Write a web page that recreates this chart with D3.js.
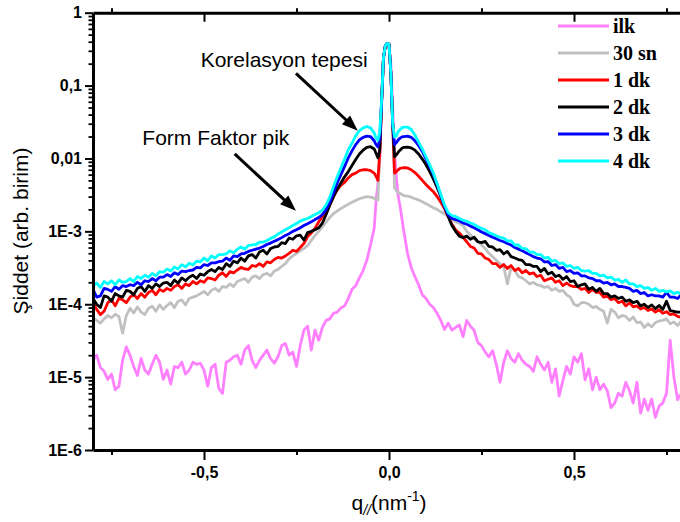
<!DOCTYPE html>
<html>
<head>
<meta charset="utf-8">
<script src="https://cdn.jsdelivr.net/npm/d3@7"></script>
<style>
  html, body { margin: 0; padding: 0; background: #fff; }
  svg { display: block; }
</style>
</head>
<body>
<svg id="chart" width="680" height="522"></svg>
<script>
// Scattering vector q_// (nm^-1): 0.01 steps on the wings, 0.005 steps around the beam
const q = [
  -0.80,-0.79,-0.78,-0.77,-0.76,-0.75,-0.74,-0.73,-0.72,-0.71,
  -0.70,-0.69,-0.68,-0.67,-0.66,-0.65,-0.64,-0.63,-0.62,-0.61,
  -0.60,-0.59,-0.58,-0.57,-0.56,-0.55,-0.54,-0.53,-0.52,-0.51,
  -0.50,-0.49,-0.48,-0.47,-0.46,-0.45,-0.44,-0.43,-0.42,-0.41,
  -0.40,-0.39,-0.38,-0.37,-0.36,-0.35,-0.34,-0.33,-0.32,-0.31,
  -0.30,-0.29,-0.28,-0.27,-0.26,-0.25,-0.24,-0.23,-0.22,-0.21,
  -0.20,-0.19,-0.18,-0.17,-0.16,-0.15,-0.14,-0.13,-0.12,-0.11,
  -0.10,-0.09,-0.08,-0.07,-0.06,-0.05,-0.04,
  -0.035,-0.03,-0.025,-0.02,-0.015,-0.01,-0.005,0,0.005,0.01,0.015,0.02,0.025,0.03,0.035,
  0.04,0.05,0.06,0.07,0.08,0.09,0.10,
  0.11,0.12,0.13,0.14,0.15,0.16,0.17,0.18,0.19,0.20,
  0.21,0.22,0.23,0.24,0.25,0.26,0.27,0.28,0.29,0.30,
  0.31,0.32,0.33,0.34,0.35,0.36,0.37,0.38,0.39,0.40,
  0.41,0.42,0.43,0.44,0.45,0.46,0.47,0.48,0.49,0.50,
  0.51,0.52,0.53,0.54,0.55,0.56,0.57,0.58,0.59,0.60,
  0.61,0.62,0.63,0.64,0.65,0.66,0.67,0.68,0.69,0.70,
  0.71,0.72,0.73,0.74,0.75,0.76,0.77,0.78,0.79,0.80
];

// Intensity (arb. units) for each measurement, same order as q
const ilk = [
  1.7e-5,2.0e-5,1.35e-5,1.2e-5,9.3e-6,1.1e-5,6.7e-6,7.5e-6,1.7e-5,2.6e-5,
  2.0e-5,1.4e-5,1.05e-5,1.8e-5,1.25e-5,1.1e-5,1.5e-5,2.0e-5,1.6e-5,9.3e-6,
  1.25e-5,8.0e-6,1.4e-5,1.35e-5,1.6e-5,1.1e-5,1.25e-5,1.6e-5,1.5e-5,1.55e-5,
  1.25e-5,7.5e-6,1.35e-5,1.5e-5,7.0e-6,6.0e-6,1.6e-5,1.7e-5,1.9e-5,2.0e-5,
  1.5e-5,2.35e-5,2.7e-5,1.7e-5,1.35e-5,1.7e-5,2.0e-5,2.35e-5,1.8e-5,1.55e-5,
  1.9e-5,2.7e-5,2.9e-5,2.0e-5,2.2e-5,1.4e-5,2.7e-5,4.4e-5,5.0e-5,2.35e-5,
  4.4e-5,3.2e-5,4.8e-5,6.0e-5,6.3e-5,7.5e-5,7.8e-5,8.9e-5,9.5e-5,1.2e-4,
  1.6e-4,1.8e-4,2.3e-4,2.9e-4,4.0e-4,6.5e-4,1.1e-3,
  2.6e-3,4.5e-3,9.5e-3,0.05,0.23,0.35,0.38,0.37,0.2,0.05,0.012,5.5e-3,3.0e-3,2.2e-3,1.5e-3,
  1.0e-3,5.0e-4,3.2e-4,2.4e-4,1.85e-4,1.35e-4,1.2e-4,
  1.0e-4,9.0e-5,7.5e-5,6.0e-5,4.5e-5,5.5e-5,4.4e-5,4.8e-5,5.2e-5,3.6e-5,
  6.0e-5,5.0e-5,4.4e-5,3.0e-5,2.7e-5,2.2e-5,1.9e-5,2.3e-5,1.5e-5,8.5e-6,
  1.6e-5,2.3e-5,1.8e-5,1.6e-5,2.1e-5,1.7e-5,1.5e-5,1.4e-5,1.2e-5,1.9e-5,
  1.5e-5,1.25e-5,1.6e-5,8.5e-6,1.3e-5,5.5e-6,9.0e-6,1.4e-5,1.1e-5,1.9e-5,
  1.6e-5,2.1e-5,9.2e-6,1.3e-5,6.7e-6,1.0e-5,6.7e-6,8.0e-6,6.5e-6,3.8e-6,
  4.4e-6,6.0e-6,5.5e-6,8.5e-6,6.5e-6,4.4e-6,8.5e-6,3.2e-6,5.0e-6,3.5e-6,
  5.0e-6,2.8e-6,4.0e-6,4.4e-6,6.0e-6,3.2e-5,1.0e-5,4.9e-6,6.0e-6,8.0e-6
];

const sn30 = [
  6.5e-5,6.0e-5,5.5e-5,6.3e-5,7.0e-5,6.5e-5,7.3e-5,6.8e-5,4.0e-5,7.0e-5,
  8.8e-5,7.6e-5,9.2e-5,7.8e-5,7.2e-5,8.8e-5,9.4e-5,8.0e-5,9.8e-5,8.5e-5,
  9.6e-5,1.05e-4,9.0e-5,1.1e-4,1.15e-4,9.8e-5,1.2e-4,1.25e-4,1.3e-4,1.4e-4,
  1.5e-4,1.35e-4,1.55e-4,1.65e-4,1.5e-4,1.75e-4,1.7e-4,1.9e-4,1.75e-4,2.05e-4,
  2.15e-4,2.25e-4,2.0e-4,2.35e-4,2.45e-4,2.25e-4,2.55e-4,2.65e-4,2.45e-4,2.85e-4,
  3.0e-4,3.3e-4,3.6e-4,4.2e-4,4.6e-4,5.0e-4,5.4e-4,5.8e-4,6.4e-4,7.5e-4,
  8.8e-4,1.0e-3,1.15e-3,1.35e-3,1.55e-3,1.75e-3,1.9e-3,2.05e-3,2.2e-3,2.35e-3,
  2.5e-3,2.65e-3,2.8e-3,2.9e-3,3.0e-3,2.95e-3,2.85e-3,
  2.75e-3,2.7e-3,0.012,0.06,0.24,0.35,0.38,0.37,0.15,0.03,4.0e-3,3.6e-3,3.4e-3,3.3e-3,3.2e-3,
  3.1e-3,3.05e-3,2.95e-3,2.8e-3,2.7e-3,2.55e-3,2.4e-3,
  2.25e-3,2.1e-3,2.0e-3,1.85e-3,1.75e-3,1.6e-3,1.45e-3,1.35e-3,1.3e-3,1.2e-3,
  1.0e-3,9.0e-4,8.0e-4,7.2e-4,6.5e-4,5.8e-4,5.0e-4,4.5e-4,4.0e-4,3.6e-4,
  3.3e-4,1.9e-4,3.2e-4,2.9e-4,2.4e-4,2.3e-4,2.1e-4,1.9e-4,2.0e-4,1.85e-4,
  1.8e-4,1.7e-4,1.75e-4,1.55e-4,1.65e-4,1.5e-4,1.55e-4,1.35e-4,1.25e-4,1.0e-4,
  9.5e-5,1.05e-4,1.05e-4,1.0e-4,9.0e-5,9.3e-5,8.5e-5,8.0e-5,5.5e-5,8.5e-5,
  7.8e-5,6.5e-5,7.0e-5,6.8e-5,6.0e-5,6.7e-5,5.6e-5,5.7e-5,4.8e-5,5.4e-5,
  4.9e-5,5.6e-5,5.9e-5,6.0e-5,6.3e-5,5.4e-5,5.7e-5,5.1e-5,5.9e-5,5.4e-5
];

const dk1 = [
  1.05e-4,8.5e-5,7.2e-5,8.0e-5,1.05e-4,1.15e-4,9.5e-5,1.2e-4,1.15e-4,1.05e-4,
  1.25e-4,1.35e-4,1.2e-4,1.4e-4,1.25e-4,1.45e-4,1.55e-4,1.35e-4,1.6e-4,1.5e-4,
  1.65e-4,1.55e-4,1.75e-4,1.85e-4,1.65e-4,1.9e-4,1.8e-4,2.05e-4,1.9e-4,2.1e-4,
  2.0e-4,2.3e-4,2.25e-4,2.15e-4,2.5e-4,2.7e-4,2.4e-4,2.8e-4,2.7e-4,2.95e-4,
  3.2e-4,3.05e-4,3.0e-4,3.4e-4,3.3e-4,3.6e-4,3.3e-4,3.8e-4,3.7e-4,4.1e-4,
  4.4e-4,4.3e-4,4.6e-4,5.0e-4,5.5e-4,5.3e-4,6.0e-4,6.8e-4,8.5e-4,9.5e-4,
  1.1e-3,1.35e-3,1.6e-3,1.9e-3,2.3e-3,3.0e-3,3.7e-3,4.3e-3,4.7e-3,5.4e-3,
  6.0e-3,6.3e-3,6.8e-3,7.0e-3,7.0e-3,6.8e-3,6.3e-3,
  5.7e-3,5.0e-3,0.012,0.06,0.24,0.35,0.38,0.37,0.15,0.03,6.3e-3,6.6e-3,7.0e-3,7.3e-3,7.4e-3,
  7.5e-3,7.4e-3,7.0e-3,6.4e-3,5.7e-3,5.0e-3,4.4e-3,
  3.9e-3,3.5e-3,3.0e-3,2.5e-3,2.05e-3,1.6e-3,1.25e-3,1.05e-3,9.5e-4,8.3e-4,
  7.2e-4,6.2e-4,5.9e-4,5.0e-4,4.9e-4,4.3e-4,4.1e-4,3.6e-4,3.6e-4,3.2e-4,
  3.5e-4,3.1e-4,3.4e-4,2.9e-4,3.1e-4,2.7e-4,2.9e-4,2.6e-4,2.7e-4,2.4e-4,
  2.5e-4,2.1e-4,2.2e-4,2.3e-4,2.0e-4,2.1e-4,1.8e-4,1.95e-4,1.8e-4,1.75e-4,
  1.75e-4,1.6e-4,1.65e-4,1.45e-4,1.6e-4,1.45e-4,1.45e-4,1.25e-4,1.3e-4,1.15e-4,
  1.2e-4,1.05e-4,1.1e-4,9.5e-5,1.05e-4,9.2e-5,9.5e-5,8.6e-5,9.0e-5,8.2e-5,
  8.6e-5,7.8e-5,8.4e-5,7.5e-5,7.9e-5,7.2e-5,7.4e-5,6.8e-5,6.6e-5,6.0e-5
];

const dk2 = [
  1.2e-4,1.0e-4,9.0e-5,1.3e-4,1.25e-4,1.1e-4,1.4e-4,1.3e-4,1.25e-4,1.55e-4,
  1.5e-4,1.35e-4,1.65e-4,1.75e-4,1.5e-4,1.8e-4,1.65e-4,1.9e-4,1.75e-4,1.95e-4,
  2.0e-4,1.8e-4,2.15e-4,1.95e-4,2.3e-4,2.1e-4,2.35e-4,2.5e-4,2.25e-4,2.6e-4,
  2.5e-4,2.8e-4,3.0e-4,2.8e-4,3.2e-4,3.0e-4,3.6e-4,3.3e-4,3.9e-4,3.7e-4,
  4.3e-4,3.9e-4,4.6e-4,4.8e-4,4.3e-4,5.2e-4,5.5e-4,4.9e-4,5.8e-4,6.1e-4,
  6.2e-4,7.0e-4,6.8e-4,8.1e-4,7.8e-4,8.7e-4,8.9e-4,7.6e-4,9.6e-4,1.0e-3,
  1.05e-3,1.12e-3,1.3e-3,1.7e-3,2.3e-3,3.0e-3,3.8e-3,4.6e-3,5.6e-3,6.6e-3,
  8.0e-3,9.7e-3,1.15e-2,1.3e-2,1.42e-2,1.45e-2,1.35e-2,
  1.18e-2,1.02e-2,1.3e-2,0.06,0.24,0.35,0.38,0.37,0.15,0.03,1.05e-2,1.12e-2,1.22e-2,1.3e-2,1.38e-2,
  1.42e-2,1.43e-2,1.4e-2,1.3e-2,1.15e-2,9.8e-3,8.2e-3,
  6.6e-3,5.2e-3,4.0e-3,3.0e-3,2.2e-3,1.6e-3,1.2e-3,1.0e-3,8.6e-4,8.2e-4,
  8.6e-4,7.8e-4,8.3e-4,7.2e-4,7.0e-4,7.3e-4,6.2e-4,6.1e-4,5.5e-4,5.6e-4,
  4.9e-4,5.3e-4,4.5e-4,4.3e-4,4.1e-4,4.0e-4,3.5e-4,3.5e-4,3.3e-4,3.3e-4,
  2.8e-4,3.1e-4,2.6e-4,2.75e-4,2.4e-4,2.5e-4,2.2e-4,2.4e-4,2.05e-4,2.1e-4,
  1.75e-4,1.85e-4,1.9e-4,1.6e-4,1.7e-4,1.5e-4,1.65e-4,1.4e-4,1.4e-4,1.25e-4,
  1.3e-4,1.2e-4,1.25e-4,1.1e-4,1.15e-4,1.05e-4,1.1e-4,9.5e-5,1.0e-4,9.0e-5,
  9.8e-5,8.7e-5,9.6e-5,8.5e-5,1.1e-4,8.2e-5,8.0e-5,7.8e-5,7.8e-5,7.5e-5
];

const dk3 = [
  1.6e-4,1.25e-4,1.3e-4,1.65e-4,1.6e-4,1.5e-4,1.75e-4,1.6e-4,1.8e-4,1.75e-4,
  1.85e-4,1.8e-4,2.0e-4,1.85e-4,2.1e-4,2.05e-4,2.25e-4,2.1e-4,2.35e-4,2.35e-4,
  2.55e-4,2.4e-4,2.7e-4,2.55e-4,2.85e-4,2.8e-4,2.9e-4,2.95e-4,3.2e-4,3.15e-4,
  3.5e-4,3.4e-4,3.7e-4,3.7e-4,3.85e-4,3.9e-4,4.3e-4,4.0e-4,4.6e-4,4.5e-4,
  4.9e-4,5.0e-4,5.3e-4,5.5e-4,5.7e-4,5.9e-4,6.2e-4,6.6e-4,6.9e-4,7.3e-4,
  7.7e-4,8.2e-4,8.8e-4,9.3e-4,1.0e-3,1.05e-3,1.12e-3,1.2e-3,1.27e-3,1.35e-3,
  1.45e-3,1.55e-3,1.7e-3,2.0e-3,2.5e-3,3.4e-3,4.6e-3,6.0e-3,7.8e-3,1.02e-2,
  1.27e-2,1.55e-2,1.8e-2,1.95e-2,2.03e-2,2.0e-2,1.75e-2,
  1.55e-2,1.45e-2,1.8e-2,0.06,0.24,0.35,0.38,0.37,0.15,0.03,1.55e-2,1.65e-2,1.8e-2,1.9e-2,1.98e-2,
  2.0e-2,2.03e-2,1.95e-2,1.75e-2,1.5e-2,1.25e-2,9.8e-3,
  7.7e-3,6.0e-3,4.4e-3,3.1e-3,2.2e-3,1.7e-3,1.5e-3,1.45e-3,1.4e-3,1.3e-3,
  1.25e-3,1.18e-3,1.12e-3,1.05e-3,9.8e-4,9.3e-4,8.8e-4,8.3e-4,7.9e-4,7.5e-4,
  7.2e-4,6.8e-4,6.5e-4,6.0e-4,5.7e-4,5.4e-4,5.1e-4,4.8e-4,4.5e-4,4.3e-4,
  4.2e-4,3.8e-4,3.85e-4,3.4e-4,3.5e-4,3.1e-4,3.2e-4,2.8e-4,2.9e-4,2.65e-4,
  2.7e-4,2.45e-4,2.45e-4,2.3e-4,2.25e-4,2.1e-4,2.1e-4,1.95e-4,2.0e-4,1.85e-4,
  1.9e-4,1.75e-4,1.75e-4,1.7e-4,1.65e-4,1.5e-4,1.55e-4,1.4e-4,1.45e-4,1.3e-4,
  1.35e-4,1.3e-4,1.3e-4,1.25e-4,1.45e-4,1.25e-4,1.25e-4,1.2e-4,1.35e-4,1.15e-4
];

const dk4 = [
  1.8e-4,1.95e-4,1.7e-4,2.05e-4,1.9e-4,2.1e-4,1.85e-4,2.15e-4,2.0e-4,2.05e-4,
  2.25e-4,2.05e-4,2.4e-4,2.25e-4,2.5e-4,2.35e-4,2.65e-4,2.45e-4,2.8e-4,2.75e-4,
  3.05e-4,2.85e-4,3.25e-4,3.05e-4,3.5e-4,3.25e-4,3.65e-4,3.45e-4,3.9e-4,3.8e-4,
  4.3e-4,3.95e-4,4.6e-4,4.3e-4,4.8e-4,4.8e-4,4.9e-4,5.4e-4,5.1e-4,5.7e-4,
  6.1e-4,5.7e-4,6.4e-4,6.5e-4,6.6e-4,7.1e-4,7.1e-4,7.5e-4,8.0e-4,8.4e-4,
  9.2e-4,9.8e-4,1.05e-3,1.12e-3,1.2e-3,1.28e-3,1.38e-3,1.45e-3,1.5e-3,1.6e-3,
  1.7e-3,1.8e-3,1.95e-3,2.3e-3,2.95e-3,4.1e-3,5.6e-3,7.4e-3,9.8e-3,1.32e-2,
  1.62e-2,2.04e-2,2.4e-2,2.63e-2,2.75e-2,2.63e-2,2.24e-2,
  1.9e-2,1.78e-2,2.3e-2,0.063,0.24,0.35,0.38,0.37,0.15,0.03,1.97e-2,2.04e-2,2.34e-2,2.5e-2,2.63e-2,
  2.7e-2,2.7e-2,2.5e-2,2.1e-2,1.68e-2,1.35e-2,1.05e-2,
  8.2e-3,6.3e-3,4.5e-3,3.2e-3,2.3e-3,1.8e-3,1.65e-3,1.6e-3,1.5e-3,1.42e-3,
  1.38e-3,1.3e-3,1.25e-3,1.15e-3,1.1e-3,1.05e-3,9.6e-4,9.2e-4,8.7e-4,8.3e-4,
  8.1e-4,7.4e-4,7.4e-4,6.5e-4,6.5e-4,5.8e-4,5.8e-4,5.2e-4,5.2e-4,4.8e-4,
  4.8e-4,4.3e-4,4.4e-4,3.9e-4,4.0e-4,3.6e-4,3.7e-4,3.3e-4,3.4e-4,3.1e-4,
  3.2e-4,2.9e-4,2.85e-4,2.9e-4,2.65e-4,2.65e-4,2.45e-4,2.5e-4,2.3e-4,2.35e-4,
  2.15e-4,2.2e-4,2.0e-4,2.15e-4,1.9e-4,1.9e-4,1.75e-4,1.8e-4,1.65e-4,1.7e-4,
  1.55e-4,1.65e-4,1.5e-4,1.55e-4,1.48e-4,1.52e-4,1.4e-4,1.46e-4,1.38e-4,1.42e-4
];

const seriesNames  = ["ilk", "30 sn", "1 dk", "2 dk", "3 dk", "4 dk"];
const seriesValues = [ilk, sn30, dk1, dk2, dk3, dk4];
const seriesColors = ["#ff80ff", "#c0c0c0", "#ff0000", "#000000", "#0000ff", "#00ffff"];

const yTickValues = [1e-6, 1e-5, 1e-4, 1e-3, 1e-2, 1e-1, 1];
const yTickLabels = ["1E-6", "1E-5", "1E-4", "1E-3", "0,01", "0,1", "1"];
const xTickValues = [-0.5, 0, 0.5];
const xTickLabels = ["-0,5", "0,0", "0,5"];
const xMinorTicks = [-0.75, -0.25, 0.25, 0.75];

// Annotation arrows, placed in data coordinates [q, intensity]
const annotations = [
  { text: "Korelasyon tepesi", at: [-0.509, 0.18],    from: [-0.2515, 0.1475],  to: [-0.0844, 0.024] },
  { text: "Form Faktor pik",   at: [-0.6666, 0.0153], from: [-0.417, 0.01153], to: [-0.2515, 0.00192] }
];

const W = 680, H = 522;
const plotL = 93, plotR = 685, plotT = 12.7, plotB = 450;

const x = d3.scaleLinear().domain([-0.8, 0.8]).range([plotL, plotR]);
const y = d3.scaleLog().domain([1e-6, 1]).range([plotB, plotT]);

const sans = "'Liberation Sans', Arial, Helvetica, sans-serif";
const serif = "'Liberation Serif', 'Times New Roman', Times, serif";

const svg = d3.select("#chart");
svg.append("rect").attr("width", W).attr("height", H).attr("fill", "#fff");

svg.append("clipPath").attr("id", "plot-clip")
  .append("rect").attr("x", plotL).attr("y", plotT)
  .attr("width", plotR - plotL).attr("height", plotB - plotT);

// Curves
const line = d3.line()
  .x(d => x(d[0]))
  .y(d => y(d[1]));

const curves = svg.append("g").attr("clip-path", "url(#plot-clip)");
seriesValues.forEach((vals, k) => {
  curves.append("path")
    .datum(q.map((qq, i) => [qq, vals[i]]))
    .attr("fill", "none")
    .attr("stroke", seriesColors[k])
    .attr("stroke-width", 2.8)
    .attr("stroke-linejoin", "round")
    .attr("stroke-linecap", "round")
    .attr("d", line);
});

// Minor decade ticks for the log axis
const yMinorTicks = [];
for (let e = -6; e < 0; e++) {
  for (let m = 2; m <= 9; m++) yMinorTicks.push(m * Math.pow(10, e));
}

function styleAxis(g, fontSize) {
  g.attr("font-family", sans).attr("font-size", fontSize).attr("font-weight", "bold");
  g.select(".domain").attr("stroke", "#000").attr("stroke-width", 3);
  g.selectAll(".tick line").attr("stroke", "#000").attr("stroke-width", 2);
  g.selectAll(".tick text").attr("fill", "#000");
}

// Left axis
const gyMinor = svg.append("g").attr("transform", `translate(${plotL},0)`)
  .call(d3.axisLeft(y).tickValues(yMinorTicks).tickSize(4.5).tickFormat(""));
gyMinor.select(".domain").remove();
gyMinor.selectAll(".tick line").attr("stroke", "#000").attr("stroke-width", 1.8);

const gy = svg.append("g").attr("transform", `translate(${plotL},0)`)
  .call(d3.axisLeft(y).tickValues(yTickValues)
    .tickFormat((d, i) => yTickLabels[i]).tickSize(8).tickSizeOuter(0).tickPadding(3));
styleAxis(gy, 16);

// Bottom axis
const gxMinor = svg.append("g").attr("transform", `translate(0,${plotB})`)
  .call(d3.axisBottom(x).tickValues(xMinorTicks).tickSize(5).tickFormat(""));
gxMinor.select(".domain").remove();
gxMinor.selectAll(".tick line").attr("stroke", "#000").attr("stroke-width", 2);

const gx = svg.append("g").attr("transform", `translate(0,${plotB})`)
  .call(d3.axisBottom(x).tickValues(xTickValues)
    .tickFormat((d, i) => xTickLabels[i]).tickSize(10).tickSizeOuter(0).tickPadding(7));
styleAxis(gx, 16);

// Top axis: major ticks inward, minor ticks outward
const gtMinor = svg.append("g").attr("transform", `translate(0,${plotT})`)
  .call(d3.axisTop(x).tickValues(xMinorTicks).tickSize(4.5).tickFormat(""));
gtMinor.select(".domain").remove();
gtMinor.selectAll(".tick line").attr("stroke", "#000").attr("stroke-width", 2);

const gt = svg.append("g").attr("transform", `translate(0,${plotT})`)
  .call(d3.axisBottom(x).tickValues(xTickValues).tickSize(9).tickSizeOuter(0).tickFormat(""));
styleAxis(gt, 16);

// Axis titles
svg.append("text")
  .attr("transform", "translate(28,231) rotate(-90)")
  .attr("text-anchor", "middle")
  .attr("font-family", sans).attr("font-size", 21).attr("fill", "#000")
  .text("Şiddet (arb. birim)");

const xt = svg.append("text")
  .attr("x", 351.5).attr("y", 510)
  .attr("font-family", sans).attr("font-size", 21).attr("fill", "#000");
xt.append("tspan").text("q");
xt.append("tspan").attr("font-size", 14).attr("font-style", "italic").attr("dy", 5).text("//");
xt.append("tspan").attr("dy", -5).text("(nm");
xt.append("tspan").attr("font-size", 14).attr("dy", -9).text("-1");
xt.append("tspan").attr("dy", 9).text(")");

// Annotations with arrows
annotations.forEach(a => {
  svg.append("text")
    .attr("x", x(a.at[0])).attr("y", y(a.at[1]))
    .attr("font-family", sans).attr("font-size", 21).attr("fill", "#000")
    .text(a.text);
  const x0 = x(a.from[0]), y0 = y(a.from[1]);
  const x1 = x(a.to[0]),   y1 = y(a.to[1]);
  const len = Math.hypot(x1 - x0, y1 - y0);
  const ux = (x1 - x0) / len, uy = (y1 - y0) / len;
  const headL = 16, headW = 6;
  const bx = x1 - ux * headL, by = y1 - uy * headL;
  svg.append("line")
    .attr("x1", x0).attr("y1", y0).attr("x2", bx + ux * 2).attr("y2", by + uy * 2)
    .attr("stroke", "#000").attr("stroke-width", 3);
  svg.append("polygon")
    .attr("points", [
      [x1, y1],
      [bx - uy * headW, by + ux * headW],
      [bx + uy * headW, by - ux * headW]
    ].map(p => p.join(",")).join(" "))
    .attr("fill", "#000");
});

// Legend
const legend = svg.append("g");
seriesNames.forEach((name, k) => {
  const ly = 26 + k * 27;
  legend.append("line")
    .attr("x1", 558).attr("x2", 609).attr("y1", ly).attr("y2", ly)
    .attr("stroke", seriesColors[k]).attr("stroke-width", 3);
  legend.append("text")
    .attr("x", 613).attr("y", ly).attr("dy", "0.35em")
    .attr("font-family", serif).attr("font-size", 20).attr("font-weight", "bold")
    .attr("fill", "#000")
    .text(name);
});
</script>
</body>
</html>
